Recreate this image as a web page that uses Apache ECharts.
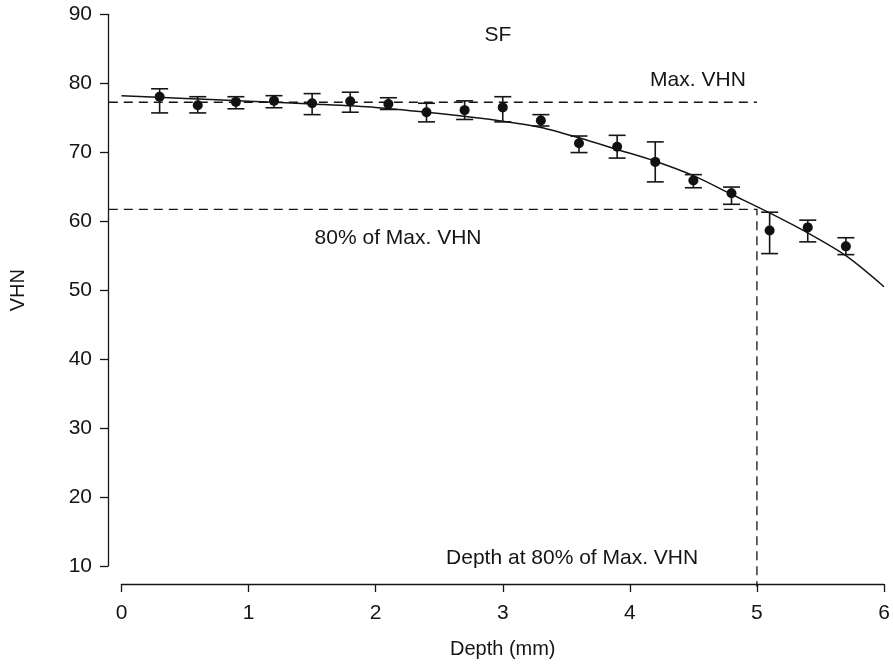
<!DOCTYPE html>
<html>
<head>
<meta charset="utf-8">
<script src="https://cdn.jsdelivr.net/npm/echarts@6/dist/echarts.min.js"></script>
<style>
  html, body { margin: 0; padding: 0; background: #fff; }
  #main { width: 893px; height: 664px; }
</style>
</head>
<body>
<div id="main"></div>
<script>
// measured points (depth in mm) with mean VHN and error bar ends
var depth = [0.3, 0.6, 0.9, 1.2, 1.5, 1.8, 2.1, 2.4, 2.7, 3.0, 3.3, 3.6, 3.9, 4.2, 4.5, 4.8, 5.1, 5.4, 5.7]
var vhnMean = [78.05, 76.8, 77.3, 77.45, 77.1, 77.4, 77.0, 75.8, 76.1, 76.5, 74.6, 71.3, 70.8, 68.6, 65.9, 64.05, 58.65, 59.1, 56.35]
var vhnHigh = [79.2, 78.05, 78.05, 78.2, 78.5, 78.7, 77.9, 77.1, 77.45, 78.05, 75.45, 72.35, 72.45, 71.5, 66.75, 64.95, 61.3, 60.15, 57.6]
var vhnLow = [75.7, 75.7, 76.3, 76.45, 75.45, 75.8, 76.2, 74.4, 74.75, 74.4, 73.8, 69.95, 69.15, 65.7, 64.85, 62.45, 55.3, 57.0, 55.15]

// fitted curve
var fitX = [0, 0.5, 1.0, 1.5, 2.0, 2.5, 3.0, 3.3, 3.6, 3.9, 4.2, 4.5, 4.8, 5.1, 5.4, 5.7, 6.0]
var fitY = [78.2, 77.8, 77.4, 77.0, 76.5, 75.6, 74.5, 73.6, 72.1, 70.4, 68.7, 66.6, 63.9, 61.2, 58.3, 55.0, 50.5]

// reference lines: each one is a polyline of [depth, VHN] corners
var maxVHN = 77.25
var vhn80 = 61.7
var depth80 = 5.0
var refLines = [
  [[-0.1, maxVHN], [depth80, maxVHN]],
  [[-0.1, vhn80], [depth80, vhn80], [depth80, 7.0]]
]

// annotations
var noteText = ['SF', 'Max. VHN', '80% of Max. VHN', 'Depth at 80% of Max. VHN']
var noteX = [2.965, 4.54, 2.18, 3.55]
var noteY = [86.85, 80.35, 57.4, 11.1]

var xTicks = [0, 1, 2, 3, 4, 5, 6]
var yTicks = [10, 20, 30, 40, 50, 60, 70, 80, 90]

var ink = '#151515'
var font = 'Liberation Sans, Arial, Helvetica, sans-serif'

var chart = echarts.init(document.getElementById('main'))

var points = depth.map(function (d, i) { return [d, vhnMean[i]] })
var bars = depth.map(function (d, i) { return [d, vhnLow[i], vhnHigh[i]] })
var fit = fitX.map(function (d, i) { return [d, fitY[i]] })
var notes = noteText.map(function (t, i) { return { name: t, value: [noteX[i], noteY[i]] } })
var refData = refLines.map(function (l, i) { return [i, l[0][0], l[0][1]] })

var option = {
  animation: false,
  backgroundColor: '#fff',
  textStyle: { fontFamily: font },
  grid: { left: 120, right: 9, top: 14.3, bottom: 97.7 },
  xAxis: {
    type: 'value',
    min: xTicks[0],
    max: xTicks[xTicks.length - 1],
    interval: 1,
    offset: 18,
    name: 'Depth (mm)',
    nameLocation: 'middle',
    nameGap: 55,
    nameTextStyle: { color: ink, fontSize: 20, fontFamily: font },
    axisLine: { onZero: false, lineStyle: { color: ink, width: 1.3 } },
    axisTick: { length: 8, lineStyle: { color: ink, width: 1.3 } },
    axisLabel: { color: ink, fontSize: 21, margin: 19, fontFamily: font },
    splitLine: { show: false }
  },
  yAxis: {
    type: 'value',
    min: yTicks[0],
    max: yTicks[yTicks.length - 1],
    interval: 10,
    offset: 13.5,
    name: 'VHN',
    nameLocation: 'middle',
    nameGap: 80,
    nameTextStyle: { color: ink, fontSize: 20, fontFamily: font },
    axisLine: { show: true, onZero: false, lineStyle: { color: ink, width: 1.3 } },
    axisTick: { show: true, length: 8, lineStyle: { color: ink, width: 1.3 } },
    axisLabel: { color: ink, fontSize: 21, margin: 16, fontFamily: font },
    splitLine: { show: false }
  },
  series: [
    {
      // dashed guide lines, drawn through the axis scales but not clipped to the grid
      type: 'custom',
      data: refData,
      clip: false,
      renderItem: function (params, api) {
        var line = refLines[api.value(0)]
        var pts = line.map(function (p) { return api.coord(p) })
        return {
          type: 'polyline',
          shape: { points: pts },
          style: { stroke: ink, lineWidth: 1.3, fill: null, lineDash: [9, 6] }
        }
      },
      z: 1
    },
    {
      type: 'line',
      data: fit,
      smooth: 0.3,
      showSymbol: false,
      symbol: 'none',
      lineStyle: { color: ink, width: 1.5 },
      z: 2
    },
    {
      type: 'custom',
      data: bars,
      renderItem: function (params, api) {
        var x = api.value(0)
        var lo = api.coord([x, api.value(1)])
        var hi = api.coord([x, api.value(2)])
        var w = 8.5
        var st = { stroke: ink, lineWidth: 1.6 }
        return {
          type: 'group',
          children: [
            { type: 'line', shape: { x1: hi[0], y1: hi[1], x2: lo[0], y2: lo[1] }, style: st },
            { type: 'line', shape: { x1: hi[0] - w, y1: hi[1], x2: hi[0] + w, y2: hi[1] }, style: st },
            { type: 'line', shape: { x1: lo[0] - w, y1: lo[1], x2: lo[0] + w, y2: lo[1] }, style: st }
          ]
        }
      },
      z: 3
    },
    {
      type: 'scatter',
      data: points,
      symbol: 'circle',
      symbolSize: 10,
      itemStyle: { color: '#111', opacity: 1 },
      z: 4
    },
    {
      type: 'scatter',
      data: notes,
      symbolSize: 1,
      itemStyle: { color: 'rgba(0,0,0,0)', opacity: 1 },
      label: {
        show: true,
        formatter: '{b}',
        position: [0, 0],
        align: 'center',
        verticalAlign: 'middle',
        color: ink,
        opacity: 1,
        fontSize: 21,
        fontFamily: font
      },
      z: 5
    }
  ]
}

chart.setOption(option)
</script>
</body>
</html>
